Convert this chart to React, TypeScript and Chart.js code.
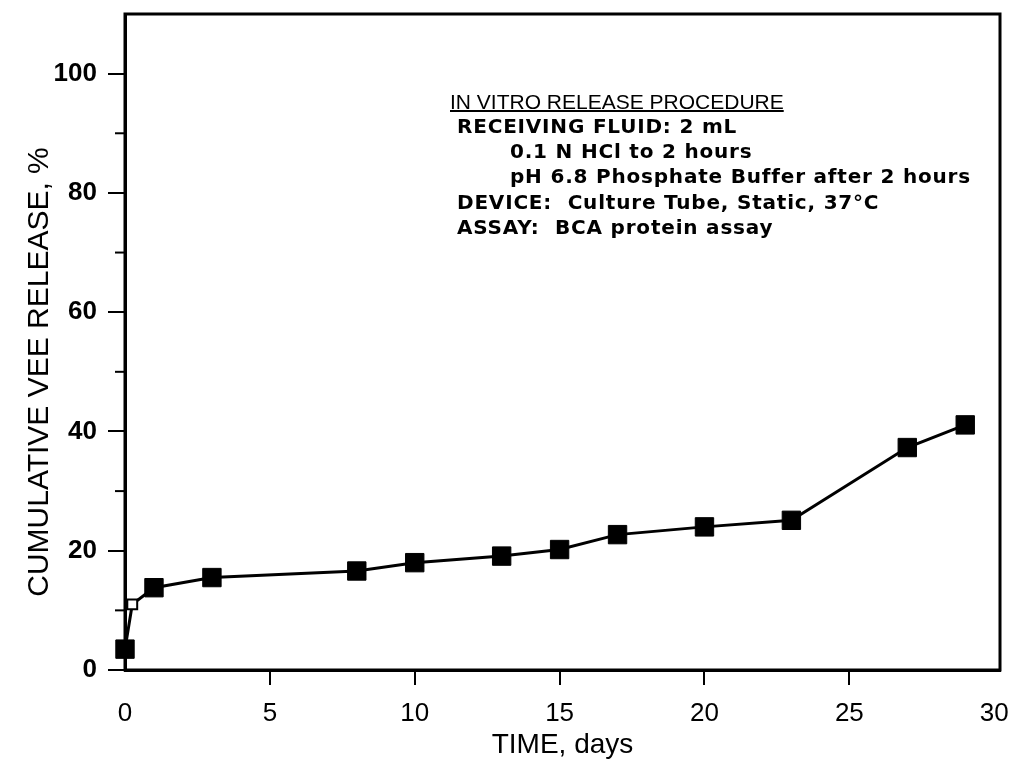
import { useEffect, useRef } from 'react';
import { Chart, registerables } from 'chart.js';

Chart.register(...registerables);

const DAYS = [0, 0.25, 1, 3, 8, 10, 13, 15, 17, 20, 23, 27, 29];
const RELEASE = [3.5, 11, 13.8, 15.5, 16.6, 18.0, 19.1, 20.2, 22.7, 24.0, 25.1, 37.3, 41.1];
const OPEN_POINTS = [1];
const X_TICKS = [0, 5, 10, 15, 20, 25, 30];
const Y_TICKS = [0, 20, 40, 60, 80, 100];
const Y_MINOR = [10, 30, 50, 70, 90];
const X_TITLE = 'TIME, days';
const Y_TITLE = 'CUMULATIVE VEE RELEASE, %';
const NOTE_TITLE = 'IN VITRO RELEASE PROCEDURE';
const NOTE_LINES = [
  'RECEIVING FLUID: 2 mL',
  '0.1 N HCl to 2 hours',
  'pH 6.8 Phosphate Buffer after 2 hours',
  'DEVICE:  Culture Tube, Static, 37°C',
  'ASSAY:  BCA protein assay',
];
const NOTE_INDENTED = [1, 2];

const framePlugin = {
  id: 'frameAndNote',
  afterDraw(chart: any) {
    const ctx = chart.ctx as CanvasRenderingContext2D;
    const { left, top, right, bottom } = chart.chartArea;
    ctx.save();
    ctx.strokeStyle = '#000';
    ctx.lineWidth = 3;
    ctx.strokeRect(left, top, right - left, bottom - top);
    const ys = chart.scales.y;
    ctx.lineWidth = 2;
    Y_MINOR.forEach((v) => {
      const py = ys.getPixelForValue(v);
      ctx.beginPath();
      ctx.moveTo(left - 10, py);
      ctx.lineTo(left, py);
      ctx.stroke();
    });

    // y axis title
    ctx.fillStyle = '#000';
    ctx.save();
    ctx.translate(40, 372);
    ctx.rotate(-Math.PI / 2);
    ctx.textAlign = 'center';
    ctx.textBaseline = 'middle';
    ctx.font = '30px "Liberation Sans", Arial, sans-serif';
    ctx.fillText(Y_TITLE, 0, 0);
    ctx.restore();

    // annotation
    ctx.textBaseline = 'alphabetic';
    ctx.textAlign = 'left';
    ctx.font = '21px "Liberation Sans", Arial, sans-serif';
    const tx = 450;
    const ty = 109;
    ctx.fillText(NOTE_TITLE, tx, ty);
    const w = ctx.measureText(NOTE_TITLE).width;
    ctx.lineWidth = 2;
    ctx.beginPath();
    ctx.moveTo(tx, ty + 2);
    ctx.lineTo(tx + w, ty + 2);
    ctx.stroke();

    ctx.font = 'bold 20px "DejaVu Sans", sans-serif';
    (ctx as any).letterSpacing = '0.8px';
    NOTE_LINES.forEach((line, i) => {
      const x = NOTE_INDENTED.includes(i) ? 510 : 457;
      ctx.fillText(line, x, 133 + i * 25.2);
    });
    ctx.restore();
  },
};

export default function App() {
  const ref = useRef<HTMLCanvasElement | null>(null);

  useEffect(() => {
    if (!ref.current) return;
    const chart = new Chart(ref.current, {
      type: 'line',
      data: {
        datasets: [
          {
            data: DAYS.map((d, i) => ({ x: d, y: RELEASE[i] })),
            borderColor: '#000',
            borderWidth: 3,
            pointStyle: 'rect',
            pointRadius: DAYS.map((_, i) => (OPEN_POINTS.includes(i) ? 7 : 13)),
            pointBackgroundColor: DAYS.map((_, i) => (OPEN_POINTS.includes(i) ? '#fff' : '#000')),
            pointBorderColor: '#000',
            pointBorderWidth: DAYS.map((_, i) => (OPEN_POINTS.includes(i) ? 2 : 1)),
            tension: 0,
            clip: false as any,
          },
        ],
      },
      options: {
        animation: false,
        responsive: true,
        maintainAspectRatio: false,
        layout: { padding: { left: 0, top: 12, right: 25, bottom: 0 } },
        plugins: { legend: { display: false }, tooltip: { enabled: false } },
        scales: {
          x: {
            type: 'linear',
            min: 0,
            max: 30.2,
            afterBuildTicks: (s: any) => {
              s.ticks = X_TICKS.map((v) => ({ value: v }));
            },
            afterFit: (s: any) => {
              s.height = 95;
            },
            grid: {
              drawOnChartArea: false,
              drawTicks: true,
              tickLength: 15,
              lineWidth: 2,
              color: (c: any) => (c.tick && (c.tick.value === 0 || c.tick.value === 30) ? 'rgba(0,0,0,0)' : '#000'),
            },
            border: { display: true, color: '#000', width: 3 },
            ticks: {
              color: '#000',
              padding: 13,
              maxRotation: 0,
              autoSkip: false,
              font: { family: '"Liberation Sans", Arial, sans-serif', size: 26 },
            },
            title: {
              display: true,
              text: X_TITLE,
              color: '#000',
              font: { family: '"Liberation Sans", Arial, sans-serif', size: 28 },
              padding: { top: 3, bottom: 3 },
            },
          },
          y: {
            type: 'linear',
            min: 0,
            max: 110,
            afterBuildTicks: (s: any) => {
              s.ticks = Y_TICKS.map((v) => ({ value: v }));
            },
            afterFit: (s: any) => {
              s.width = 125;
              s.paddingTop = 0;
              s.paddingBottom = 0;
            },
            grid: {
              drawOnChartArea: false,
              drawTicks: true,
              tickLength: 17,
              lineWidth: 2,
              color: '#000',
            },
            border: { display: true, color: '#000', width: 3 },
            ticks: {
              color: '#000',
              padding: 11,
              autoSkip: false,
              font: { family: '"Liberation Sans", Arial, sans-serif', size: 26, weight: 'bold' },
            },
            title: { display: false },
          },
        },
      },
      plugins: [framePlugin],
    });
    return () => chart.destroy();
  }, []);

  return (
    <div style={{ position: 'absolute', left: 0, top: 0, width: 1025, height: 765, background: '#fff' }}>
      <canvas ref={ref} />
    </div>
  );
}
